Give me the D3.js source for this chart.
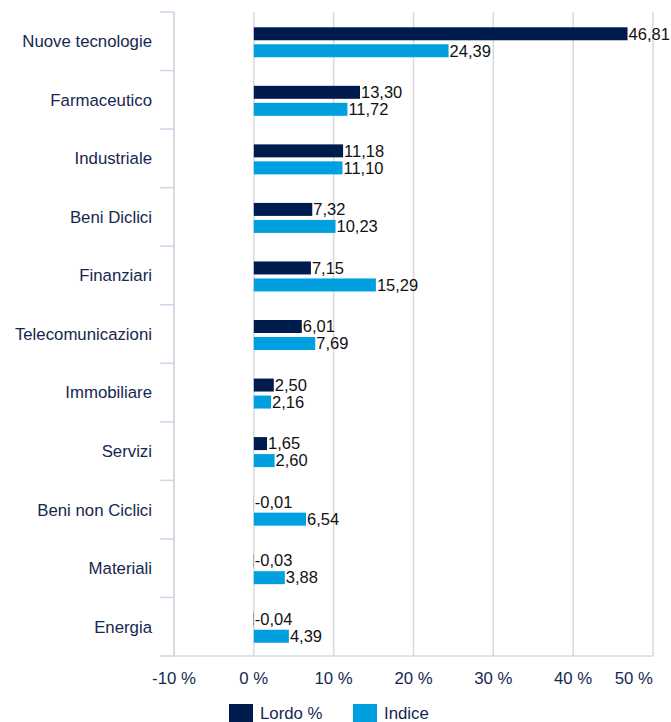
<!DOCTYPE html>
<html>
<head>
<meta charset="utf-8">
<script src="https://cdn.jsdelivr.net/npm/d3@7"></script>
<style>
  body { margin: 0; background: #fff; }
  svg { display: block; font-family: "Liberation Sans", Arial, sans-serif; }
</style>
</head>
<body>
<div id="mainDiv"></div>
<script>
const categories = [
  "Nuove tecnologie", "Farmaceutico", "Industriale", "Beni Diclici", "Finanziari",
  "Telecomunicazioni", "Immobiliare", "Servizi", "Beni non Ciclici", "Materiali", "Energia"
];
const lordo = [46.81, 13.30, 11.18, 7.32, 7.15, 6.01, 2.50, 1.65, -0.01, -0.03, -0.04];
const indice = [24.39, 11.72, 11.10, 10.23, 15.29, 7.69, 2.16, 2.60, 6.54, 3.88, 4.39];
const xTicks = [-10, 0, 10, 20, 30, 40, 50];
const seriesNames = ["Lordo %", "Indice"];

const colors = { lordo: "#001c4e", indice: "#009fdf" };

const chartSize = {
  width: 671,
  height: 722,
  margin: { top: 12, right: 18, bottom: 66, left: 174 },
};

const fontSize = 16.8;

const svg = d3.select("#mainDiv")
  .append("svg")
  .attr("width", chartSize.width)
  .attr("height", chartSize.height);

const x = d3.scaleLinear()
  .domain([-10, 50])
  .range([chartSize.margin.left, chartSize.width - chartSize.margin.right]);

const y = d3.scaleBand()
  .domain(categories)
  .range([chartSize.margin.top, chartSize.height - chartSize.margin.bottom]);

const bottom = chartSize.height - chartSize.margin.bottom;

// vertical grid lines
svg.append("g")
  .selectAll("line")
  .data(xTicks)
  .join("line")
  .attr("x1", d => x(d))
  .attr("x2", d => x(d))
  .attr("y1", chartSize.margin.top)
  .attr("y2", bottom)
  .attr("stroke", "#d9d9d9")
  .attr("stroke-width", 1.5);

// left category axis with separators
const yAxis = g => g
  .attr("transform", `translate(${chartSize.margin.left},0)`)
  .call(g => g.append("line")
    .attr("y1", chartSize.margin.top)
    .attr("y2", bottom)
    .attr("stroke", "#d9d9d9")
    .attr("stroke-width", 1.5))
  .call(g => g.selectAll(".sep")
    .data(d3.range(categories.length + 1))
    .join("line")
    .attr("class", "sep")
    .attr("x1", -14)
    .attr("x2", 0)
    .attr("y1", i => chartSize.margin.top + i * y.step())
    .attr("y2", i => chartSize.margin.top + i * y.step())
    .attr("stroke", "#c9d6ec")
    .attr("stroke-width", 1.5))
  .call(g => g.selectAll(".cat")
    .data(categories)
    .join("text")
    .attr("class", "cat")
    .attr("x", -22)
    .attr("y", d => y(d) + y.bandwidth() / 2)
    .attr("dy", "0.35em")
    .attr("text-anchor", "end")
    .attr("font-size", fontSize)
    .attr("fill", "#14284f")
    .text(d => d));

svg.append("g").call(yAxis);

// bottom axis line
svg.append("line")
  .attr("x1", x(-10))
  .attr("x2", x(50))
  .attr("y1", bottom)
  .attr("y2", bottom)
  .attr("stroke", "#d0d8e8")
  .attr("stroke-width", 1.5);

// x tick labels
svg.append("g")
  .selectAll("text")
  .data(xTicks)
  .join("text")
  .attr("x", d => x(d))
  .attr("y", bottom + 22)
  .attr("dy", "0.35em")
  .attr("text-anchor", (d, i) => i === xTicks.length - 1 ? "end" : "middle")
  .attr("font-size", fontSize)
  .attr("fill", "#14284f")
  .text(d => d + " %");

// bars
const barH = 13;
const gap = 4;
const series = [
  { key: "lordo", values: lordo, offset: -(barH + gap / 2) },
  { key: "indice", values: indice, offset: gap / 2 },
];

series.forEach(s => {
  const g = svg.append("g");
  const data = categories.map((c, i) => ({ c, v: s.values[i] }));

  g.selectAll("rect")
    .data(data)
    .join("rect")
    .attr("x", d => x(Math.min(0, d.v)))
    .attr("y", d => y(d.c) + y.bandwidth() / 2 + s.offset + 1)
    .attr("width", d => Math.abs(x(d.v) - x(0)))
    .attr("height", barH)
    .attr("fill", colors[s.key]);

  g.selectAll("text")
    .data(data)
    .join("text")
    .attr("x", d => x(Math.max(0, d.v)) + 1)
    .attr("y", d => y(d.c) + y.bandwidth() / 2 + s.offset + 1 + barH / 2)
    .attr("dy", "0.35em")
    .attr("font-size", 16.5)
    .attr("fill", "#111")
    .text(d => d.v.toFixed(2).replace(".", ","));
});

// legend
const legend = svg.append("g")
  .attr("transform", `translate(229,${chartSize.height - 18})`);

const legendItems = [
  { name: seriesNames[0], color: colors.lordo, x: 0 },
  { name: seriesNames[1], color: colors.indice, x: 124 },
];

legendItems.forEach(item => {
  legend.append("rect")
    .attr("x", item.x)
    .attr("y", 0)
    .attr("width", 24)
    .attr("height", 18)
    .attr("fill", item.color);

  legend.append("text")
    .attr("x", item.x + 31)
    .attr("y", 9)
    .attr("dy", "0.35em")
    .attr("font-size", fontSize)
    .attr("fill", "#14284f")
    .text(item.name);
});
</script>
</body>
</html>
